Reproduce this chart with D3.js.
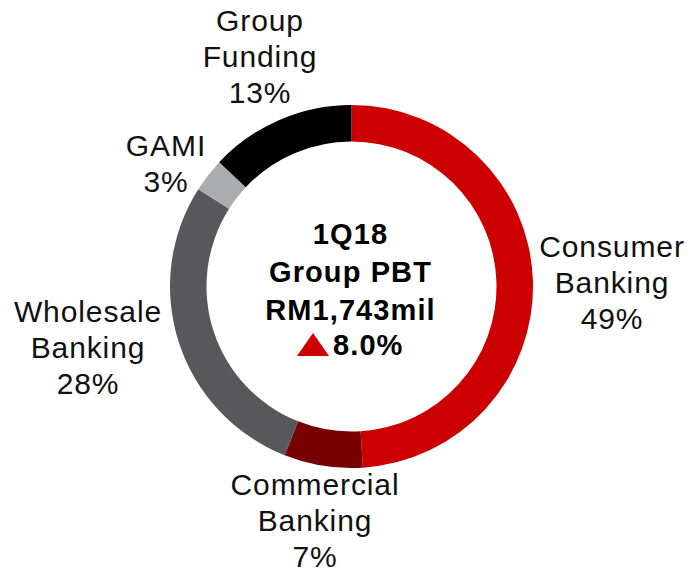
<!DOCTYPE html>
<html>
<head>
<meta charset="utf-8">
<script src="https://cdn.jsdelivr.net/npm/d3@7"></script>
<style>
  body { margin: 0; background: #fff; }
  text { font-family: "Liberation Sans", Arial, sans-serif; }
</style>
</head>
<body>
<div id="chart"></div>
<script>
// segments, clockwise from 12 o'clock
const segments = ["Consumer Banking", "Commercial Banking", "Wholesale Banking", "GAMI", "Group Funding"]
const shares = [49, 7, 28, 3, 13]
const labelLines = [["Consumer", "Banking"], ["Commercial", "Banking"], ["Wholesale", "Banking"], ["GAMI"], ["Group", "Funding"]]
const segColors = ["#cc0000", "#770000", "#58585b", "#abacaf", "#000000"]

const centerLines = ["1Q18", "Group PBT", "RM1,743mil"]
const growth = "8.0%"

const W = 690, H = 572
const cx = 351.5, cy = 286.5
const rOuter = 181.5, rInner = 145

// first-line baseline for each label block (layout only)
const labelAnchors = [[612, 257], [315, 495], [88, 322], [166, 156], [260, 31]]
const lineH = 36

const svg = d3.select('#chart').append('svg')
    .attr('width', W)
    .attr('height', H)

const pie = d3.pie().sort(null).value(d => d)
const arc = d3.arc().innerRadius(rInner).outerRadius(rOuter)

const g = svg.append('g').attr('transform', `translate(${cx},${cy})`)

g.selectAll('path').data(pie(shares))
    .enter()
    .append('path')
    .attr('d', arc)
    .attr('fill', (d, i) => segColors[i])

// outer labels
segments.forEach((s, i) => {
    let lines = labelLines[i].concat([shares[i] + '%'])
    let t = svg.append('text')
        .attr('x', labelAnchors[i][0])
        .attr('y', labelAnchors[i][1])
        .attr('text-anchor', 'middle')
        .attr('font-size', 30)
        .attr('letter-spacing', 0.9)
        .attr('fill', '#111')
    lines.forEach((l, j) => {
        t.append('tspan')
            .attr('x', labelAnchors[i][0])
            .attr('dy', j === 0 ? 0 : lineH)
            .text(l)
    })
})

// centre text
centerLines.forEach((l, i) => {
    svg.append('text')
        .attr('x', cx - 1)
        .attr('y', 244 + i * 38.2)
        .attr('text-anchor', 'middle')
        .attr('font-size', 29)
        .attr('font-weight', 'bold')
        .attr('letter-spacing', 1.1)
        .text(l)
})

let gy = 355
svg.append('path')
    .attr('d', d3.symbol().type(d3.symbolTriangle).size(1))
    .remove()
svg.append('polygon')
    .attr('points', `${297},${gy + 1} ${329},${gy + 1} ${313},${gy - 22}`)
    .attr('fill', '#cc0000')
svg.append('text')
    .attr('x', 333)
    .attr('y', gy)
    .attr('font-size', 29)
    .attr('font-weight', 'bold')
    .attr('letter-spacing', 1.1)
    .text(growth)
</script>
</body>
</html>
